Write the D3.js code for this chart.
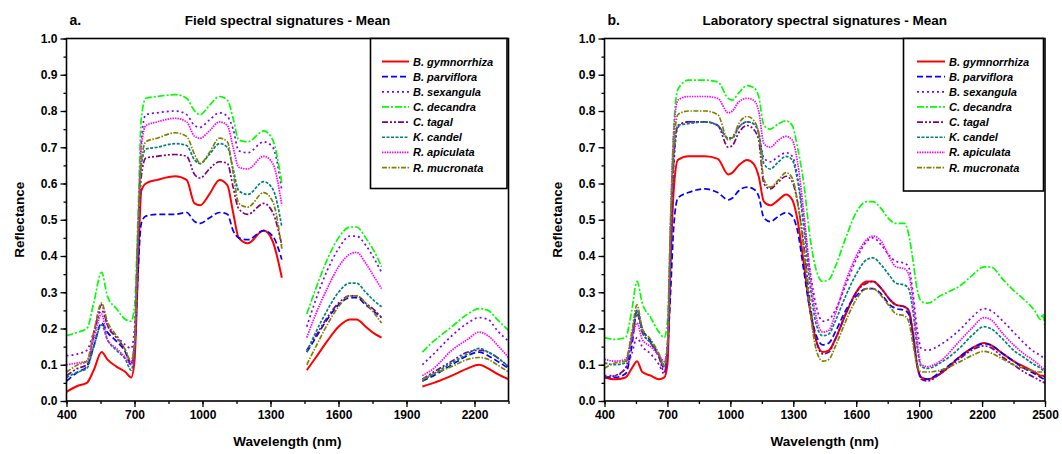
<!DOCTYPE html>
<html>
<head>
<meta charset="utf-8">
<script src="https://cdn.jsdelivr.net/npm/d3@7"></script>
<style>
  html, body { margin: 0; padding: 0; background: #fff; }
  svg { display: block; }
  text { font-family: Arial, "Liberation Sans", sans-serif; fill: #000; }
</style>
</head>
<body>
<svg id="chart" width="1062" height="454"></svg>
<script>
// Species and their line styles
const species = ["B. gymnorrhiza", "B. parviflora", "B. sexangula", "C. decandra",
                 "C. tagal", "K. candel", "R. apiculata", "R. mucronata"];
const colors = ["#ff0000", "#0000ff", "#8000ff", "#00ff00", "#800080", "#008080", "#ff00ff", "#808000"];
const dashes = ["none", "6,3", "2,3", "7,2,2,2", "6,2,2,2,2,2", "3,1.5", "1.5,1", "5,1.5,1.5,1.5"];

// Axis ticks
const yTicks = [0.0, 0.1, 0.2, 0.3, 0.4, 0.5, 0.6, 0.7, 0.8, 0.9, 1.0];
const fieldXTicks = [400, 700, 1000, 1300, 1600, 1900, 2200];
const labXTicks = [400, 700, 1000, 1300, 1600, 1900, 2200, 2500];

// Field spectra (null = water absorption bands removed)
const fieldWavelengths = [400, 450, 490, 520, 555, 580, 620, 660, 685, 700, 715, 730, 750, 800, 880, 930, 965, 990, 1030, 1075, 1110, 1135, 1160, 1200, 1270, 1310, 1350,
  1400,
  1460, 1500, 1550, 1600, 1650, 1680, 1720, 1760, 1790,
  1880,
  1970, 2020, 2100, 2170, 2220, 2260, 2300, 2350];

const fieldGymnorrhiza = [.025, .042, .05, .085, .135, .115, .095, .08, .065, .11, .35, .58, .60, .61, .62, .61, .545, .54, .57, .61, .595, .52, .45, .435, .47, .44, .34,
  null, .085, .12, .165, .205, .225, .225, .205, .185, .175,
  null, .04, .05, .07, .09, .10, .09, .075, .06];
const fieldParviflora = [.055, .08, .095, .15, .215, .19, .165, .135, .10, .14, .35, .49, .51, .515, .515, .52, .495, .49, .505, .52, .515, .47, .45, .445, .47, .455, .39,
  null, .135, .175, .225, .265, .285, .285, .265, .245, .23,
  null, .055, .07, .10, .125, .135, .125, .11, .09];
const fieldSexangula = [.125, .13, .14, .19, .25, .21, .18, .155, .145, .20, .45, .72, .79, .795, .80, .79, .76, .755, .775, .795, .785, .75, .69, .685, .715, .70, .58,
  null, .205, .28, .36, .42, .455, .455, .43, .39, .355,
  null, .10, .13, .18, .215, .23, .225, .195, .165];
const fieldDecandra = [.18, .19, .20, .27, .355, .29, .255, .225, .22, .26, .50, .78, .835, .84, .845, .835, .80, .79, .815, .84, .83, .78, .72, .715, .745, .72, .60,
  null, .24, .31, .39, .45, .48, .48, .45, .41, .37,
  null, .135, .165, .205, .24, .255, .25, .225, .195];
const fieldTagal = [.07, .09, .10, .18, .265, .21, .175, .14, .105, .16, .42, .62, .67, .675, .68, .675, .625, .615, .64, .66, .655, .59, .53, .515, .545, .52, .43,
  null, .14, .18, .23, .27, .29, .29, .27, .25, .23,
  null, .06, .08, .11, .135, .14, .135, .12, .095];
const fieldCandel = [.065, .08, .09, .15, .21, .17, .14, .115, .085, .14, .45, .65, .695, .70, .71, .705, .665, .655, .68, .71, .70, .64, .58, .57, .605, .585, .48,
  null, .135, .19, .25, .30, .325, .325, .30, .275, .26,
  null, .055, .075, .105, .13, .145, .135, .12, .095];
const fieldApiculata = [.10, .105, .11, .17, .24, .17, .145, .12, .10, .15, .45, .70, .76, .77, .78, .77, .73, .725, .745, .77, .76, .70, .645, .64, .675, .655, .54,
  null, .175, .24, .31, .37, .405, .41, .38, .34, .31,
  null, .07, .09, .14, .17, .19, .18, .155, .12];
const fieldMucronata = [.08, .10, .11, .19, .27, .22, .18, .14, .11, .16, .45, .66, .715, .725, .74, .73, .68, .655, .685, .725, .715, .63, .545, .535, .575, .55, .42,
  null, .10, .15, .21, .26, .29, .29, .27, .24, .215,
  null, .06, .075, .095, .115, .12, .115, .10, .08];

// Laboratory spectra
const labWavelengths = [400, 450, 500, 530, 555, 580, 620, 660, 685, 700, 715, 730, 750, 800, 880, 940, 990, 1010, 1040, 1080, 1110, 1135, 1160, 1190, 1230, 1265, 1295, 1320, 1350,
  1380, 1410, 1440, 1470, 1500, 1550, 1600, 1650, 1680, 1720, 1760, 1790, 1830, 1850, 1870, 1890, 1910, 1940,
  2000, 2100, 2150, 2210, 2240, 2300, 2350, 2400, 2450, 2480, 2490, 2500];

const labGymnorrhiza = [.065, .06, .065, .09, .11, .08, .07, .06, .065, .10, .38, .58, .665, .675, .675, .668, .625, .63, .65, .665, .655, .62, .55, .54, .555, .57, .555, .50, .38,
  .25, .165, .135, .14, .17, .24, .30, .33, .33, .31, .28, .265, .26, .25, .19, .10, .065, .06,
  .075, .125, .145, .16, .155, .13, .11, .095, .08, .07, .07, .065];
const labParviflora = [.065, .065, .075, .15, .25, .20, .165, .125, .09, .14, .30, .48, .56, .575, .585, .575, .555, .56, .58, .59, .585, .565, .505, .495, .51, .52, .51, .47, .36,
  .25, .18, .155, .16, .19, .25, .29, .31, .31, .295, .265, .255, .25, .24, .18, .10, .065, .06,
  .08, .125, .145, .158, .155, .13, .11, .09, .075, .065, .062, .06];
const labSexangula = [.07, .07, .09, .13, .175, .15, .13, .10, .075, .12, .40, .64, .755, .77, .77, .76, .725, .73, .755, .77, .765, .74, .67, .66, .675, .685, .675, .62, .50,
  .36, .26, .22, .225, .25, .32, .39, .44, .45, .43, .40, .385, .38, .37, .30, .20, .145, .14,
  .155, .20, .23, .255, .25, .22, .19, .16, .135, .125, .12, .115];
const labDecandra = [.175, .17, .175, .25, .33, .27, .23, .19, .175, .22, .50, .75, .86, .885, .885, .88, .835, .83, .85, .87, .865, .84, .76, .75, .765, .773, .76, .70, .60,
  .45, .36, .33, .335, .37, .45, .52, .55, .55, .53, .50, .49, .49, .46, .39, .31, .275, .27,
  .29, .32, .345, .37, .37, .335, .305, .28, .25, .225, .24, .20];
const labTagal = [.065, .07, .09, .17, .24, .19, .16, .12, .08, .14, .42, .66, .76, .77, .77, .76, .70, .705, .74, .76, .75, .72, .60, .585, .605, .62, .605, .55, .43,
  .27, .165, .13, .135, .17, .24, .30, .325, .33, .31, .28, .265, .26, .25, .19, .10, .06, .055,
  .075, .12, .14, .152, .148, .12, .10, .08, .065, .055, .052, .05];
const labCandel = [.105, .10, .105, .18, .25, .19, .16, .125, .10, .15, .45, .68, .76, .765, .77, .76, .725, .725, .755, .77, .765, .74, .655, .64, .66, .675, .665, .61, .48,
  .32, .21, .18, .185, .22, .29, .35, .39, .395, .375, .345, .325, .32, .31, .25, .15, .095, .09,
  .105, .15, .18, .205, .20, .17, .14, .12, .10, .09, .085, .08];
const labApiculata = [.115, .11, .115, .17, .215, .17, .15, .125, .11, .15, .50, .74, .83, .84, .84, .835, .795, .80, .825, .835, .83, .80, .71, .70, .72, .73, .72, .66, .52,
  .35, .23, .19, .195, .24, .33, .40, .445, .455, .44, .395, .37, .365, .35, .28, .17, .10, .095,
  .11, .17, .20, .23, .225, .185, .155, .13, .11, .095, .09, .085];
const labMucronata = [.09, .105, .11, .19, .265, .20, .17, .13, .095, .16, .48, .70, .79, .80, .80, .79, .72, .725, .765, .785, .775, .74, .61, .59, .61, .63, .615, .55, .42,
  .25, .14, .11, .115, .15, .22, .28, .31, .31, .29, .26, .24, .235, .22, .16, .10, .08, .08,
  .085, .11, .125, .137, .133, .115, .10, .09, .082, .08, .08, .08];

const fieldSeries = [fieldGymnorrhiza, fieldParviflora, fieldSexangula, fieldDecandra,
                     fieldTagal, fieldCandel, fieldApiculata, fieldMucronata];
const labSeries = [labGymnorrhiza, labParviflora, labSexangula, labDecandra,
                   labTagal, labCandel, labApiculata, labMucronata];

const svg = d3.select("#chart");
const plotTop = 38.5, plotBottom = 401;

function drawPanel(cfg) {
  const x = d3.scaleLinear().domain(cfg.xDomain).range([cfg.left, cfg.right]);
  const y = d3.scaleLinear().domain([0, 1]).range([plotBottom, plotTop]);
  const g = svg.append("g");

  // curves
  const line = d3.line()
    .defined(d => d[1] != null)
    .x(d => x(d[0]))
    .y(d => y(d[1]))
    .curve(d3.curveMonotoneX);

  const clipId = "clip-" + cfg.id;
  svg.append("clipPath").attr("id", clipId)
    .append("rect").attr("x", cfg.left).attr("y", plotTop)
    .attr("width", cfg.right - cfg.left).attr("height", plotBottom - plotTop);

  const curves = g.append("g").attr("clip-path", `url(#${clipId})`);
  cfg.series.forEach((vals, i) => {
    const pts = cfg.wavelengths.map((w, k) => [w, vals[k]]);
    curves.append("path")
      .attr("d", line(pts))
      .attr("fill", "none")
      .attr("stroke", colors[i])
      .attr("stroke-width", i === 0 ? 2 : 1.7)
      .attr("stroke-dasharray", dashes[i])
      .attr("stroke-linejoin", "round");
  });

  // axes
  const xMinor = d3.range(cfg.xDomain[0], cfg.xDomain[1] + 1, 150);
  const yMinor = d3.range(0, 1.0001, 0.05);

  const xAxis = d3.axisBottom(x).tickValues(cfg.xTicks).tickFormat(d3.format("d"))
    .tickSize(6).tickSizeOuter(0).tickPadding(3);
  const xAxisMinor = d3.axisBottom(x).tickValues(xMinor).tickFormat("").tickSize(3).tickSizeOuter(0);
  const yAxis = d3.axisLeft(y).tickValues(yTicks).tickFormat(d3.format(".1f"))
    .tickSize(6).tickSizeOuter(0).tickPadding(3);
  const yAxisMinor = d3.axisLeft(y).tickValues(yMinor).tickFormat("").tickSize(3).tickSizeOuter(0);

  [xAxisMinor, xAxis].forEach(ax => {
    g.append("g").attr("transform", `translate(0,${plotBottom})`).call(ax)
      .call(s => s.select(".domain").remove());
  });
  [yAxisMinor, yAxis].forEach(ax => {
    g.append("g").attr("transform", `translate(${cfg.left},0)`).call(ax)
      .call(s => s.select(".domain").remove());
  });
  g.selectAll(".tick line").attr("stroke", "#000").attr("stroke-width", 1.3);
  g.selectAll(".tick text").attr("font-size", 12).attr("font-weight", "bold")
    .attr("font-family", "Arial, 'Liberation Sans', sans-serif").attr("fill", "#000");

  // frame
  g.append("rect")
    .attr("x", cfg.left).attr("y", plotTop)
    .attr("width", cfg.right - cfg.left).attr("height", plotBottom - plotTop)
    .attr("fill", "none").attr("stroke", "#000").attr("stroke-width", 1.6);

  // titles
  g.append("text").attr("x", cfg.left + 3).attr("y", 25)
    .attr("font-size", 14).attr("font-weight", "bold").text(cfg.tag);
  g.append("text").attr("x", (cfg.left + cfg.right) / 2).attr("y", 25)
    .attr("text-anchor", "middle").attr("font-size", 13.5).attr("font-weight", "bold")
    .text(cfg.title);
  g.append("text").attr("x", (cfg.left + cfg.right) / 2).attr("y", 446)
    .attr("text-anchor", "middle").attr("font-size", 13.5).attr("font-weight", "bold")
    .text("Wavelength (nm)");
  g.append("text")
    .attr("transform", `translate(${cfg.left - 43},${(plotTop + plotBottom) / 2}) rotate(-90)`)
    .attr("text-anchor", "middle").attr("font-size", 13.5).attr("font-weight", "bold")
    .text("Reflectance");

  // legend
  const lg = g.append("g");
  lg.append("rect")
    .attr("x", cfg.legend.x).attr("y", plotTop)
    .attr("width", cfg.legend.w).attr("height", cfg.legend.h)
    .attr("fill", "#fff").attr("stroke", "#000").attr("stroke-width", 1.6);
  species.forEach((name, i) => {
    const yy = 61.5 + i * 15.15;
    lg.append("line")
      .attr("x1", cfg.legend.x + cfg.legend.lineStart).attr("x2", cfg.legend.x + cfg.legend.lineEnd)
      .attr("y1", yy).attr("y2", yy)
      .attr("stroke", colors[i]).attr("stroke-width", i === 0 ? 2 : 1.7)
      .attr("stroke-dasharray", dashes[i]);
    lg.append("text")
      .attr("x", cfg.legend.x + cfg.legend.lineEnd + 4).attr("y", yy + 4)
      .attr("font-size", 11).attr("font-weight", "bold").attr("font-style", "italic")
      .text(name);
  });
}

drawPanel({
  id: "field", tag: "a.", title: "Field spectral signatures - Mean",
  left: 66.5, right: 508.5, xDomain: [400, 2350], xTicks: fieldXTicks,
  wavelengths: fieldWavelengths, series: fieldSeries,
  legend: { x: 370.5, w: 136.5, h: 150, lineStart: 11.5, lineEnd: 38.5 }
});
drawPanel({
  id: "lab", tag: "b.", title: "Laboratory spectral signatures - Mean",
  left: 604.5, right: 1045, xDomain: [400, 2500], xTicks: labXTicks,
  wavelengths: labWavelengths, series: labSeries,
  legend: { x: 903.5, w: 140, h: 152.5, lineStart: 13.5, lineEnd: 41.5 }
});
</script>
</body>
</html>
